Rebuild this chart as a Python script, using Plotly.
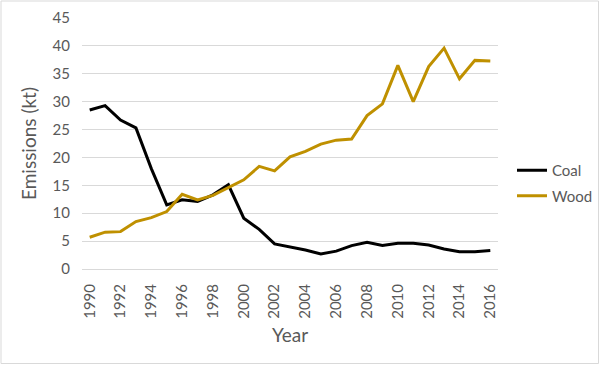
import plotly.graph_objects as go

years = list(range(1990, 2017))
coal = [28.5, 29.3, 26.7, 25.3, 18.0, 11.5, 12.4, 12.1, 13.3, 15.1, 9.1, 7.1, 4.5, 4.0,
        3.4, 2.7, 3.2, 4.2, 4.8, 4.2, 4.6, 4.6, 4.3, 3.6, 3.1, 3.1, 3.3]
wood = [5.7, 6.6, 6.7, 8.5, 9.2, 10.3, 13.4, 12.4, 13.2, 14.6, 16.0, 18.4, 17.6, 20.1,
        21.1, 22.4, 23.1, 23.3, 27.5, 29.6, 36.5, 30.0, 36.3, 39.6, 34.1, 37.4, 37.3]
x_ticks = list(range(1990, 2017, 2))
y_ticks = list(range(0, 50, 5))

FONT = "Lato"
GRAY = "#595959"
GRID = "#d9d9d9"

fig = go.Figure()
fig.add_trace(go.Scatter(x=years, y=coal, name="Coal", mode="lines", legendgroup="c",
                         line=dict(color="#000000", width=3)))
fig.add_trace(go.Scatter(x=years, y=wood, name="Wood", mode="lines", legendgroup="w",
                         line=dict(color="#BF9000", width=3)))

L, R, T, B = 82, 102, 18, 96
W, H = 600, 365
pw, ph = W - L - R, H - T - B

fig.update_layout(
    width=W, height=H,
    margin=dict(l=L, r=R, t=T, b=B, autoexpand=False),
    paper_bgcolor="white", plot_bgcolor="white",
    font=dict(family=FONT, color=GRAY, size=15),
    showlegend=True,
    legend=dict(x=(512 - L) / pw, y=(269 - 154) / ph, xanchor="left", yanchor="top",
                font=dict(family=FONT, size=15, color=GRAY),
                itemwidth=30, traceorder="grouped", tracegroupgap=3,
                bgcolor="rgba(0,0,0,0)"),
    xaxis=dict(range=[1989.5, 2016.5], tickvals=x_ticks, ticktext=[str(v) for v in x_ticks],
               tickangle=-90, showgrid=False, showline=True, linecolor=GRID, linewidth=1,
               ticks="outside", ticklen=8, tickcolor="rgba(0,0,0,0)", zeroline=False,
               title=dict(text="Year", font=dict(size=19, family=FONT, color=GRAY), standoff=10),
               fixedrange=True),
    yaxis=dict(range=[0, 45], tickvals=y_ticks, showgrid=True, gridcolor=GRID, gridwidth=1,
               zeroline=False, showline=False,
               ticks="outside", ticklen=8, tickcolor="rgba(0,0,0,0)",
               title=dict(text="Emissions (kt)", font=dict(size=19, family=FONT, color=GRAY), standoff=10),
               fixedrange=True),
)

# chart border (like the spreadsheet chart area)
fig.add_shape(type="rect", xref="paper", yref="paper",
              x0=(1 - L) / pw, x1=(598.5 - L) / pw,
              y0=(269 - 363.5) / ph, y1=(269 - 1) / ph,
              line=dict(color=GRID, width=1), fillcolor="rgba(0,0,0,0)", layer="below")

fig.write_html("out.html", config={"displayModeBar": False},
               post_script="document.body.style.margin='0';")
